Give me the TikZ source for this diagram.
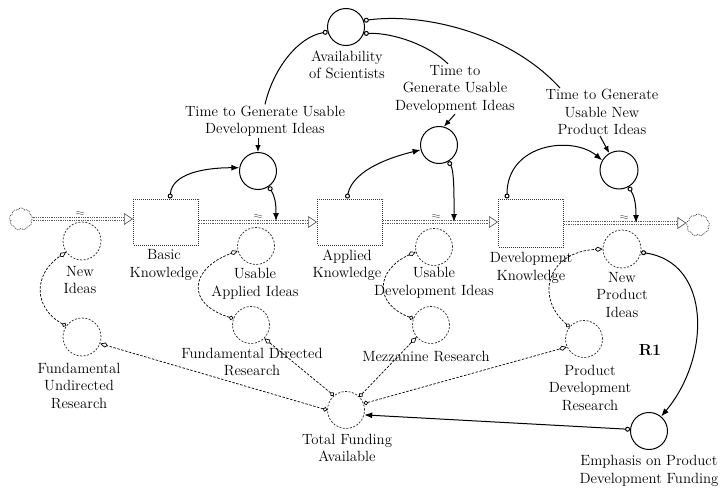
\documentclass[tikz,border=0pt]{standalone}
\usetikzlibrary{arrows.meta,shapes.symbols,calc}
\begin{document}
\begin{tikzpicture}[x=1pt,y=-1pt,
  every node/.style={font=\fontsize{14.8}{17.5}\selectfont},
  lbl/.style={align=center,inner sep=1pt},
  stockbox/.style={draw=black!80,densely dotted,line width=1pt,minimum width=65pt,minimum height=46pt,inner sep=0pt},
  auxc/.style={draw,circle,line width=1pt,minimum size=37pt,inner sep=0pt},
  flowc/.style={draw=black!85,circle,line width=0.7pt,dash pattern=on 2pt off 1.5pt,minimum size=37pt,inner sep=0pt},
  cloudy/.style={cloud,cloud puffs=9,cloud puff arc=120,aspect=1,draw=black!75,densely dotted,line width=0.8pt,minimum width=23pt,minimum height=22pt,inner sep=0pt},
  pipe/.style={draw=black!65,line width=0.7pt,double=white,double distance=2.4pt,dash pattern=on 1pt off 0.8pt},
  pipehead/.style={draw=black!65,line width=0.7pt,arrows={-Triangle[open,length=9pt,width=12pt]}},
  conn/.style={line width=1pt,arrows={Circle[open,length=5pt]-Latex[length=8pt,width=6pt]}},
  connplain/.style={line width=1pt,arrows={Circle[open,length=5pt]-}},
  lblarrow/.style={line width=1pt,arrows={-Latex[length=7pt,width=5.5pt]}},
  link/.style={line width=0.7pt,dash pattern=on 2.5pt off 1.5pt,arrows={Circle[open,length=4.5pt]-Kite[open,length=8pt,width=5pt,inset=3pt]}},
  valvemark/.pic={\draw[line width=0.5pt,black!60] (-4,0) .. controls (-2,-2) and (2,2) .. (4,0) (-4,-2) .. controls (-2,-4) and (2,0) .. (4,-2);},
]
\useasboundingbox (0,0) rectangle (725,487);

% stocks and clouds
\node[stockbox] (bk) at (166,222) {};
\node[stockbox] (ak) at (350,222) {};
\node[stockbox,minimum height=48pt] (dk) at (531,223) {};
\node[cloudy] (src) at (21,219) {};
\node[cloudy] (snk) at (698,225) {};

% converters
\node[auxc] (av) at (346,27) {};
\node[auxc] (t1) at (258,171) {};
\node[auxc] (t2) at (439,145) {};
\node[auxc,minimum size=38pt] (t3) at (619,170) {};
\node[auxc] (epd) at (649,431) {};

% flow rates and funding
\node[flowc,minimum size=38pt] (ni) at (82,241) {};
\node[flowc] (uai) at (256,246) {};
\node[flowc] (udi) at (434,247) {};
\node[flowc,minimum size=38pt] (npi) at (622,249) {};
\node[flowc,minimum size=38pt] (fur) at (82,337) {};
\node[flowc] (fdr) at (251,325) {};
\node[flowc] (mr) at (431,325) {};
\node[flowc] (pdr) at (584,339) {};
\node[flowc] (tfa) at (346,410) {};

% valve points on the pipes
\coordinate (v1) at (276,221);
\coordinate (v2) at (454,222);
\coordinate (v3) at (636,223);

% pipes
\coordinate (p1) at (bk.west |- src.east);
\coordinate (p3) at (ak.east -| dk.west);
\coordinate (p4) at (snk.west |- dk.east);
\draw[pipe] (src.east) -- ($(p1)+(-9,0)$);
\draw[pipehead] ($(p1)+(-9,0)$) -- (p1);
\draw[pipe] (bk.east) -- ($(ak.west)+(-9,0)$);
\draw[pipehead] ($(ak.west)+(-9,0)$) -- (ak.west);
\draw[pipe] (ak.east) -- ($(p3)+(-9,0)$);
\draw[pipehead] ($(p3)+(-9,0)$) -- (p3);
\draw[pipe] (dk.east) -- ($(p4)+(-9,0)$);
\draw[pipehead] ($(p4)+(-9,0)$) -- (p4);
\pic at (80,214) {valvemark};
\pic at (258,217) {valvemark};
\pic at (436,217) {valvemark};
\pic at (624,218) {valvemark};

% labels
\node[lbl] (bk_l) at (164,265) {Basic\\Knowledge};
\node[lbl] (ak_l) at (347,265) {Applied\\Knowledge};
\node[lbl] (dk_l) at (531,268) {Development\\Knowledge};
\node[lbl] (ni_l) at (80,280) {New\\Ideas};
\node[lbl] (uai_l) at (255,284) {Usable\\Applied Ideas};
\node[lbl] (udi_l) at (434,283) {Usable\\Development Ideas};
\node[lbl] (npi_l) at (622,295) {New\\Product\\Ideas};
\node[lbl] (t1_l) at (265,121) {Time to Generate Usable\\Development Ideas};
\node[lbl] (t2_l) at (455,89) {Time to\\Generate Usable\\Development Ideas};
\node[lbl] (t3_l) at (602,112) {Time to Generate\\Usable New\\Product Ideas};
\node[lbl] (av_l) at (347,65) {Availability\\of Scientists};
\node[lbl] (fur_l) at (79,386) {Fundamental\\Undirected\\Research};
\node[lbl] (fdr_l) at (252,362) {Fundamental Directed\\Research};
\node[lbl] (mr_l) at (426,357) {Mezzanine Research};
\node[lbl] (pdr_l) at (590,388) {Product\\Development\\Research};
\node[lbl] (tfa_l) at (347,448) {Total Funding\\Available};
\node[lbl] (epd_l) at (649,471) {Emphasis on Product\\Development Funding};
\node[font=\bfseries\fontsize{16}{19}\selectfont] (r1) at (650,350) {R1};

% availability of scientists drives the three delays
\draw[connplain] (av.195) .. controls +(-30,5) and +(8,-35) .. (t1_l.north);
\draw[connplain] (av.-20) .. controls +(30,-1) and +(-18,-18) .. ($(t2_l.north)+(-7,0)$);
\draw[connplain] (av.20) .. controls +(60,-8) and +(-50,-55) .. ($(t3_l.north)+(-42,0)$);
\draw[lblarrow] (t1_l.south -| t1.north) -- (t1.north);
\draw[lblarrow] (t2_l.south) -- (t2.75);
\draw[lblarrow] ($(t3_l.south)+(-2,0)$) -- (t3.120);

% knowledge stocks feed the delays, delays set the flows
\draw[conn] ($(bk.north)+(4,0)$) .. controls +(2,-25) and +(-35,0) .. (t1.170);
\draw[conn] (t1.-55) .. controls +(6,10) and +(0,-18) .. (v1);
\draw[conn] ($(ak.north)+(-3,0)$) .. controls +(6,-30) and +(-25,6) .. (t2.195);
\draw[conn] (t2.-60) .. controls +(6,10) and +(0,-20) .. (v2);
\draw[conn] ($(dk.north west)+(9,0)$) .. controls +(0,-55) and +(-30,-25) .. (t3.150);
\draw[conn] (t3.-60) .. controls +(6,10) and +(0,-18) .. (v3);

% reinforcing loop through funding emphasis
\draw[conn] (npi.-10) .. controls +(70,10) and +(50,-60) .. (epd.50);
\draw[conn] (epd.175) -- (tfa.-15);

% research links
\draw[link] (fur.145) .. controls +(-33,-18) and +(-33,22) .. (ni.215);
\draw[link] (fdr.160) .. controls +(-48,-15) and +(-48,18) .. (uai.195);
\draw[link] (mr.160) .. controls +(-40,-15) and +(-40,18) .. (udi.195);
\draw[link] (pdr.140) .. controls +(-35,-30) and +(-55,3) .. (npi.180);
\draw[link] (tfa.180) -- (fur.-20);
\draw[link] (tfa.130) -- (fdr.-45);
\draw[link] (tfa.45) -- (mr.-140);
\draw[link] (tfa.20) -- (pdr.-155);
\end{tikzpicture}
\end{document}
